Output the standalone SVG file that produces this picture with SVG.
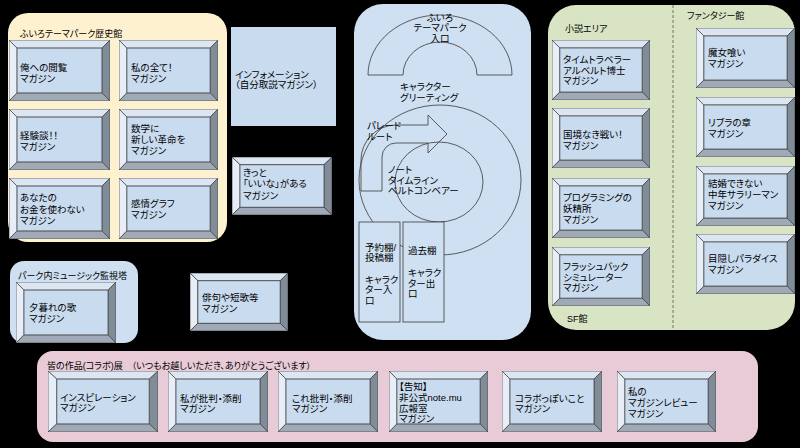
<svg xmlns="http://www.w3.org/2000/svg" xmlns:xlink="http://www.w3.org/1999/xlink" width="800" height="448" viewBox="0 0 800 448">
<style>
.t{font-family:"Liberation Sans","Noto Sans CJK JP",sans-serif;font-size:9.5px;fill:#000;font-feature-settings:"palt"}
.ti{font-size:9px}
.tm{text-anchor:middle}
.ln{fill:none;stroke:#3a3a3a;stroke-width:0.8}
.shelf{fill:#cfe0f2;stroke:#3a3a3a;stroke-width:0.8}
.bs{stroke:#404040;stroke-width:0.7;vector-effect:non-scaling-stroke}
</style>
<defs>
<symbol id="bev" viewBox="0 0 100 60" preserveAspectRatio="none">
<path class="bs" d="M0 0H100L92 8H8Z" fill="#dce6f2"/>
<path class="bs" d="M0 0L8 8V52L0 60Z" fill="#e8eef7"/>
<path class="bs" d="M100 0V60L92 52V8Z" fill="#818c99"/>
<path class="bs" d="M0 60H100L92 52H8Z" fill="#a0aab6"/>
<rect class="bs" x="8" y="8" width="84" height="44" fill="#c9dbef"/>
</symbol>
</defs>
<rect width="800" height="448" fill="#000"/>

<g id="history-hall">
<rect x="8" y="13" width="219" height="229" rx="20" fill="#fdf1cf"/>
<text class="t ti" x="20" y="37">ふいろテーマパーク歴史館</text>
</g>
<g id="n-oreno"><use xlink:href="#bev" x="9" y="40" width="101" height="61"/>
<text class="t"><tspan x="20" y="71">俺への閲覧</tspan><tspan x="20" y="81.7">マガジン</tspan></text></g>
<g id="n-watashino"><use xlink:href="#bev" x="119" y="40" width="99" height="61"/>
<text class="t"><tspan x="131" y="71">私の全て！</tspan><tspan x="131" y="81.7">マガジン</tspan></text></g>
<g id="n-keiken"><use xlink:href="#bev" x="9" y="109" width="101" height="61"/>
<text class="t"><tspan x="20" y="139.2">経験談！！</tspan><tspan x="20" y="149.9">マガジン</tspan></text></g>
<g id="n-sugaku"><use xlink:href="#bev" x="119" y="109" width="99" height="61"/>
<text class="t"><tspan x="131" y="132">数学に</tspan><tspan x="131" y="143">新しい革命を</tspan><tspan x="131" y="154">マガジン</tspan></text></g>
<g id="n-anata"><use xlink:href="#bev" x="9" y="178" width="101" height="61"/>
<text class="t"><tspan x="20" y="201">あなたの</tspan><tspan x="20" y="212.5">お金を使わない</tspan><tspan x="20" y="224">マガジン</tspan></text></g>
<g id="n-kanjo"><use xlink:href="#bev" x="119" y="178" width="99" height="61"/>
<text class="t"><tspan x="131" y="207">感情グラフ</tspan><tspan x="131" y="218">マガジン</tspan></text></g>

<g id="n-info">
<rect x="231" y="27" width="105" height="99" fill="#c9dbef"/>
<text class="t"><tspan x="235" y="77.7">インフォメーション</tspan><tspan x="235" y="88.4">（自分取説マガジン）</tspan></text>
</g>
<g id="n-kitto"><use xlink:href="#bev" x="232" y="157" width="100" height="58"/>
<text class="t"><tspan x="243" y="175.5">きっと</tspan><tspan x="243" y="187">「いいな」がある</tspan><tspan x="243" y="198.5">マガジン</tspan></text></g>
<g id="n-haiku"><use xlink:href="#bev" x="190" y="273" width="98" height="58"/>
<text class="t"><tspan x="202" y="301">俳句や短歌等</tspan><tspan x="202" y="312">マガジン</tspan></text></g>

<g id="music-tower">
<rect x="10" y="261" width="128" height="82" rx="14" fill="#cddff1"/>
<text class="t ti" x="18" y="279">パーク内ミュージック監視塔</text>
</g>
<g id="n-yugure"><use xlink:href="#bev" x="16" y="282" width="100" height="61"/>
<text class="t"><tspan x="29" y="311">夕暮れの歌</tspan><tspan x="29" y="322">マガジン</tspan></text></g>

<g id="theme-park">
<rect x="354" y="4" width="177" height="336" rx="29" fill="#cfe0f2"/>
</g>
<g id="entrance">
<path class="ln" d="M368 75A72 60 0 0 1 512 75H477A37 33 0 0 0 403 75Z"/>
<text class="t tm"><tspan x="440" y="20.5">ふいろ</tspan><tspan x="440" y="31.4">テーマパーク</tspan><tspan x="440" y="42.1">入口</tspan></text>
</g>
<g id="greeting">
<ellipse class="ln" cx="440" cy="180" rx="81" ry="75"/>
<text class="t"><tspan x="400" y="90">キャラクター</tspan><tspan x="400" y="101">グリーティング</tspan></text>
</g>
<g id="timeline">
<ellipse class="ln" cx="439" cy="182" rx="44" ry="40"/>
<text class="t"><tspan x="388" y="173">ノート</tspan><tspan x="388" y="183.7">タイムライン</tspan><tspan x="388" y="194.4">ベルトコンベアー</tspan></text>
</g>
<g id="parade-route">
<path class="ln" d="M361 191V160A35 35 0 0 1 396 125H428V115L447 134L428 153V143H396A14 14 0 0 0 382 157V191Z"/>
<text class="t"><tspan x="367" y="129">パレード</tspan><tspan x="367" y="140">ルート</tspan></text>
</g>
<g id="n-yoyaku">
<rect class="shelf" x="359" y="222" width="41" height="100"/>
<text class="t"><tspan x="365" y="250.5">予約棚/</tspan><tspan x="365" y="261.2">投稿棚</tspan><tspan x="365" y="282.6">キャラク</tspan><tspan x="365" y="293.3">ター入</tspan><tspan x="365" y="304">口</tspan></text>
</g>
<g id="n-kako">
<rect class="shelf" x="403" y="222" width="41" height="100"/>
<text class="t"><tspan x="408" y="254.4">過去棚</tspan><tspan x="408" y="275.8">キャラク</tspan><tspan x="408" y="286.5">ター出</tspan><tspan x="408" y="297.2">口</tspan></text>
</g>

<g id="novel-area">
<rect x="548" y="5" width="247" height="325" rx="28" fill="#d8e4c3"/>
<line x1="673" y1="5" x2="673" y2="330" stroke="#555" stroke-width="0.8" stroke-dasharray="3 2"/>
<text class="t ti" x="565" y="31.5">小説エリア</text>
<text class="t ti" x="687" y="18.5">ファンタジー館</text>
<text class="t ti" x="567" y="321.5">SF館</text>
</g>
<g id="n-time"><use xlink:href="#bev" x="552" y="40" width="98" height="60"/>
<text class="t"><tspan x="563" y="63">タイムトラベラー</tspan><tspan x="563" y="73.7">アルベルト博士</tspan><tspan x="563" y="84.4">マガジン</tspan></text></g>
<g id="n-kokkyo"><use xlink:href="#bev" x="552" y="108" width="98" height="60"/>
<text class="t"><tspan x="563" y="138.4">国境なき戦い！</tspan><tspan x="563" y="149.1">マガジン</tspan></text></g>
<g id="n-program"><use xlink:href="#bev" x="552" y="178" width="98" height="60"/>
<text class="t"><tspan x="563" y="200.5">プログラミングの</tspan><tspan x="563" y="211.5">妖精所</tspan><tspan x="563" y="222.5">マガジン</tspan></text></g>
<g id="n-flash"><use xlink:href="#bev" x="552" y="247" width="98" height="59"/>
<text class="t"><tspan x="563" y="270">フラッシュバック</tspan><tspan x="563" y="280.7">シミュレーター</tspan><tspan x="563" y="291.4">マガジン</tspan></text></g>
<g id="n-majo"><use xlink:href="#bev" x="696" y="28" width="99" height="60"/>
<text class="t"><tspan x="708" y="56.4">魔女喰い</tspan><tspan x="708" y="67.1">マガジン</tspan></text></g>
<g id="n-libra"><use xlink:href="#bev" x="696" y="97" width="99" height="60"/>
<text class="t"><tspan x="708" y="126.4">リブラの章</tspan><tspan x="708" y="137.1">マガジン</tspan></text></g>
<g id="n-kekkon"><use xlink:href="#bev" x="696" y="166" width="99" height="60"/>
<text class="t"><tspan x="708" y="186.5">結婚できない</tspan><tspan x="708" y="197.5">中年サラリーマン</tspan><tspan x="708" y="208.5">マガジン</tspan></text></g>
<g id="n-mekakushi"><use xlink:href="#bev" x="696" y="234" width="99" height="60"/>
<text class="t"><tspan x="708" y="262.4">目隠しパラダイス</tspan><tspan x="708" y="273.1">マガジン</tspan></text></g>

<g id="collab-hall">
<rect x="37" y="351" width="721" height="91" rx="16" fill="#e8cbd6"/>
<text class="t ti" x="47" y="368.5">皆の作品(コラボ)展　（いつもお越しいただき、ありがとうございます）</text>
</g>
<g id="n-inspi"><use xlink:href="#bev" x="48" y="371" width="110" height="61"/>
<text class="t"><tspan x="60" y="400.7">インスピレーション</tspan><tspan x="60" y="411.4">マガジン</tspan></text></g>
<g id="n-hihan1"><use xlink:href="#bev" x="168" y="371" width="100" height="61"/>
<text class="t"><tspan x="180" y="401.7">私が批判・添削</tspan><tspan x="180" y="412.4">マガジン</tspan></text></g>
<g id="n-hihan2"><use xlink:href="#bev" x="278" y="371" width="100" height="61"/>
<text class="t"><tspan x="292" y="401.7">これ批判・添削</tspan><tspan x="292" y="412.4">マガジン</tspan></text></g>
<g id="n-kokuchi"><use xlink:href="#bev" x="389" y="371" width="99" height="61"/>
<text class="t"><tspan x="399" y="390.2">【告知】</tspan><tspan x="399" y="400.9">非公式note.mu</tspan><tspan x="399" y="411.6">広報室</tspan><tspan x="399" y="422.3">マガジン</tspan></text></g>
<g id="n-collab"><use xlink:href="#bev" x="502" y="371" width="100" height="61"/>
<text class="t"><tspan x="515" y="401.7">コラボっぽいこと</tspan><tspan x="515" y="412.4">マガジン</tspan></text></g>
<g id="n-review"><use xlink:href="#bev" x="617" y="371" width="99" height="61"/>
<text class="t"><tspan x="628" y="395.3">私の</tspan><tspan x="628" y="406">マガジンレビュー</tspan><tspan x="628" y="416.7">マガジン</tspan></text></g>
<g id="connectors"/>
</svg>
